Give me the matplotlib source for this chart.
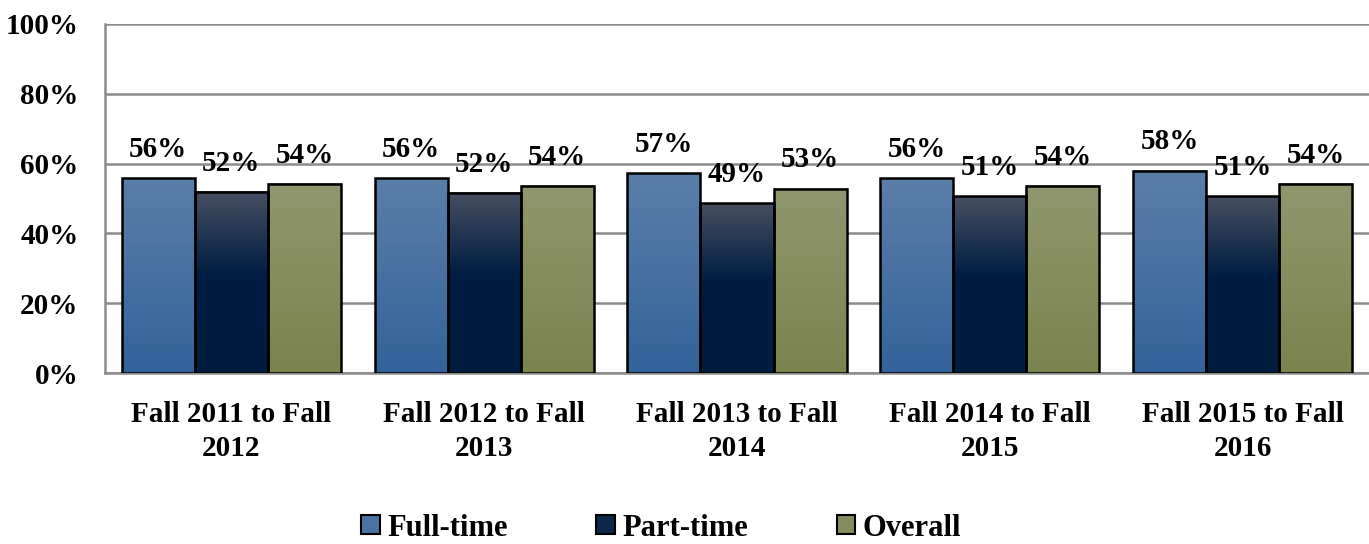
import numpy as np
import matplotlib
matplotlib.use("Agg")
import matplotlib.pyplot as plt
from matplotlib.colors import LinearSegmentedColormap
from matplotlib.patches import Patch

categories = ["Fall 2011 to Fall\n2012", "Fall 2012 to Fall\n2013", "Fall 2013 to Fall\n2014",
              "Fall 2014 to Fall\n2015", "Fall 2015 to Fall\n2016"]
full_time = [55.8, 55.8, 57.3, 55.8, 58.0]
part_time = [51.9, 51.6, 48.6, 50.6, 50.6]
overall = [54.2, 53.6, 52.8, 53.6, 54.2]
series_names = ["Full-time", "Part-time", "Overall"]
yticks = [0, 20, 40, 60, 80, 100]

plt.rcParams['font.family'] = ['Liberation Serif', 'DejaVu Serif']
plt.rcParams['font.weight'] = 'bold'

# gradients top -> bottom
grads = [
    LinearSegmentedColormap.from_list("ft", [(0, "#33639a"), (1, "#5b7ea9")]),
    LinearSegmentedColormap.from_list("pt", [(0, "#001d40"), (0.55, "#001e42"), (1, "#474f61")]),
    LinearSegmentedColormap.from_list("ov", [(0, "#7a844d"), (1, "#90976f")]),
]
legend_cols = ["#4a72a2", "#0c2748", "#858d60"]

fig = plt.figure(figsize=(13.69, 5.44), dpi=100)
ax = fig.add_axes([105 / 1369, 1 - 373 / 544, 1 - 105 / 1369, 349 / 544])

x = np.arange(len(categories))
w = 0.289
grad = np.linspace(0, 1, 256).reshape(-1, 1)

for k, vals in enumerate([full_time, part_time, overall]):
    bars = ax.bar(x + (k - 1) * w, vals, w, facecolor="none", edgecolor="black",
                  linewidth=1.8, zorder=4)
    for b, v in zip(bars, vals):
        x0, y0 = b.get_x(), b.get_y()
        ax.imshow(grad, cmap=grads[k], aspect="auto", origin="lower",
                  extent=[x0, x0 + b.get_width(), y0, y0 + b.get_height()], zorder=3)
        ax.annotate(f"{v:.0f}%", (x0 + b.get_width() / 2, v), xytext=(0, 11),
                    textcoords="offset points", ha="center", va="bottom",
                    fontsize=21, fontweight="bold", zorder=5)

ax.set_xlim(-0.5, len(categories) - 0.5)
ax.set_ylim(0, 100)
ax.set_yticks(yticks)
ax.set_yticklabels([f"{t}%" for t in yticks])
ax.yaxis.grid(True, color="#8c8c8c", linewidth=1.8)
ax.set_axisbelow(True)
ax.set_xticks(x)
ax.set_xticklabels(categories, linespacing=1.35)
ax.tick_params(axis="y", length=0, pad=19, labelsize=21)
ax.tick_params(axis="x", length=0, pad=20, labelsize=21)
for s in ["top", "right"]:
    ax.spines[s].set_visible(False)
for s in ["left", "bottom"]:
    ax.spines[s].set_color("#8c8c8c")
    ax.spines[s].set_linewidth(1.8)

handles = [Patch(facecolor=c, edgecolor="black", linewidth=1.5) for c in legend_cols]
fig.legend(handles, series_names, loc="center", bbox_to_anchor=(0.483, 1 - 528 / 544),
           ncol=3, frameon=False, fontsize=22, handlelength=0.6, handleheight=0.6,
           handletextpad=0.25, columnspacing=2.9)

fig.savefig("out.png", dpi=100)
